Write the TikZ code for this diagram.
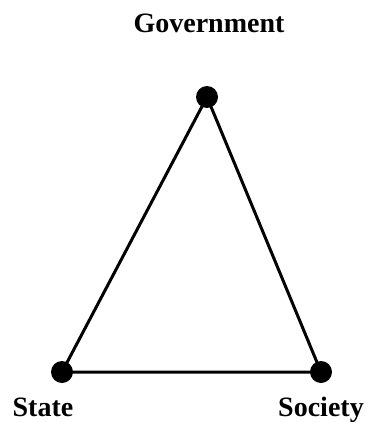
\documentclass[tikz,border=0pt]{standalone}
\usepackage{fontspec}
\setmainfont{Liberation Serif}
\begin{document}
\begin{tikzpicture}[x=1pt,y=-1pt,
  dot/.style={circle,fill=black,inner sep=0pt,minimum size=22pt},
  lbl/.style={font=\fontsize{28}{32}\selectfont\bfseries,anchor=base,inner sep=0pt},
  edge/.style={line width=3pt}]
\useasboundingbox (0,0) rectangle (366,423);
\coordinate (g) at (207,97);
\coordinate (s) at (62,372);
\coordinate (c) at (321,372);
\draw[edge] (g) -- (s) -- (c) -- cycle;
\node[dot] (G) at (g) {};
\node[dot] (S) at (s) {};
\node[dot] (C) at (c) {};
\node[lbl] (tg) at (209,32) {Government};
\node[lbl] (ts) at (43,416) {State};
\node[lbl] (tc) at (321,416) {Society};
\end{tikzpicture}
\end{document}
